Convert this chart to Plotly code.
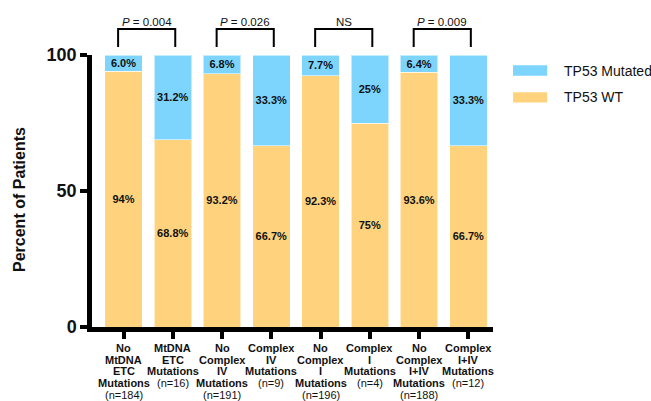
import plotly.graph_objects as go

# ---- data -------------------------------------------------------------
label_lines = [
    ["No", "MtDNA", "ETC", "Mutations"],
    ["MtDNA", "ETC", "Mutations"],
    ["No", "Complex", "IV", "Mutations"],
    ["Complex", "IV", "Mutations"],
    ["No", "Complex", "I", "Mutations"],
    ["Complex", "I", "Mutations"],
    ["No", "Complex", "I+IV", "Mutations"],
    ["Complex", "I+IV", "Mutations"],
]
n_counts = [184, 16, 191, 9, 196, 4, 188, 12]

wt_pct = [94, 68.8, 93.2, 66.7, 92.3, 75, 93.6, 66.7]
mut_pct = [6.0, 31.2, 6.8, 33.3, 7.7, 25, 6.4, 33.3]
wt_text = ["94%", "68.8%", "93.2%", "66.7%", "92.3%", "75%", "93.6%", "66.7%"]
mut_text = ["6.0%", "31.2%", "6.8%", "33.3%", "7.7%", "25%", "6.4%", "33.3%"]

pairs = [(0, 1), (2, 3), (4, 5), (6, 7)]
pair_labels = ["<i>P</i> = 0.004", "<i>P</i> = 0.026", "NS", "<i>P</i> = 0.009"]

series_names = ["TP53 Mutated", "TP53 WT"]
y_ticks = [0, 50, 100]

# ---- styling ----------------------------------------------------------
FONT = "Liberation Sans, Arial, Helvetica, sans-serif"
BLUE = "#7DD5FE"
ORANGE = "#FFD37E"
EDGE = "rgba(255,255,255,0.55)"
INK = "#111111"

x_idx = list(range(len(wt_pct)))

fig = go.Figure()
fig.add_trace(go.Bar(
    x=x_idx, y=wt_pct, name=series_names[1], marker_color=ORANGE,
    marker_line=dict(color=EDGE, width=1), width=0.76,
    text=wt_text, textposition="inside", insidetextanchor="middle",
    textangle=0, constraintext="none",
    textfont=dict(family=FONT, size=11, color=INK, weight="bold"),
    showlegend=False,
))
fig.add_trace(go.Bar(
    x=x_idx, y=mut_pct, name=series_names[0], marker_color=BLUE,
    marker_line=dict(color=EDGE, width=1), width=0.76,
    text=mut_text, textposition="inside", insidetextanchor="middle",
    textangle=0, constraintext="none",
    textfont=dict(family=FONT, size=11, color=INK, weight="bold"),
    showlegend=False,
))

shapes = []
annotations = []

# category labels, one annotation per line for tight line spacing
for i, lines in enumerate(label_lines):
    all_lines = [f"<b>{s}</b>" for s in lines] + [f"(n={n_counts[i]})"]
    for k, s in enumerate(all_lines):
        annotations.append(dict(
            x=i, y=0, xref="x", yref="paper", text=s, showarrow=False,
            xanchor="center", yanchor="middle", yshift=-(21 + k * 11.7),
            font=dict(family=FONT, size=11, color=INK),
        ))

# significance brackets above each pair
for (a, b), lab in zip(pairs, pair_labels):
    x0, x1 = a - 0.11, b + 0.05
    shapes.append(dict(
        type="path", xref="x", yref="paper",
        path=f"M {x0},1.029 L {x0},1.096 L {x1},1.096 L {x1},1.029",
        line=dict(color="black", width=2),
    ))
    annotations.append(dict(
        x=(x0 + x1) / 2, y=1.12, xref="x", yref="paper", text=lab,
        showarrow=False, xanchor="center", yanchor="middle",
        font=dict(family=FONT, size=11.5, color=INK),
    ))

# legend
legend_rows = [(series_names[0], BLUE, 0.943), (series_names[1], ORANGE, 0.844)]
for name, col, yc in legend_rows:
    shapes.append(dict(
        type="rect", xref="paper", yref="paper",
        x0=1.050, x1=1.135, y0=yc - 0.019, y1=yc + 0.019,
        fillcolor=col, line=dict(width=0),
    ))
    annotations.append(dict(
        x=1.172, y=yc, xref="paper", yref="paper", text=name,
        showarrow=False, xanchor="left", yanchor="middle",
        font=dict(family=FONT, size=14, color=INK),
    ))

# y-axis title
annotations.append(dict(
    x=0, y=0.467, xref="paper", yref="paper", text="<b>Percent of Patients</b>",
    showarrow=False, textangle=-90, xanchor="center", yanchor="middle",
    xshift=-72, font=dict(family=FONT, size=16, color=INK),
))

fig.update_layout(
    width=651, height=401,
    margin=dict(l=92, r=158, t=55, b=74),
    barmode="stack",
    plot_bgcolor="white", paper_bgcolor="white",
    font=dict(family=FONT, color=INK),
    shapes=shapes, annotations=annotations,
    xaxis=dict(
        range=[-0.64, 7.5], tickmode="array", tickvals=x_idx,
        showticklabels=False, ticks="outside", ticklen=7, tickwidth=3.5,
        tickcolor="black", showline=True, linecolor="black", linewidth=4.5,
        showgrid=False, zeroline=False,
    ),
    yaxis=dict(
        range=[0, 100], tickmode="array", tickvals=y_ticks,
        ticks="outside", ticklen=7, tickwidth=4, tickcolor="black",
        showline=True, linecolor="black", linewidth=4.5,
        showgrid=False, zeroline=False,
        tickfont=dict(family=FONT, size=18, color=INK, weight="bold"),
    ),
)

fig.write_html("out.html")
